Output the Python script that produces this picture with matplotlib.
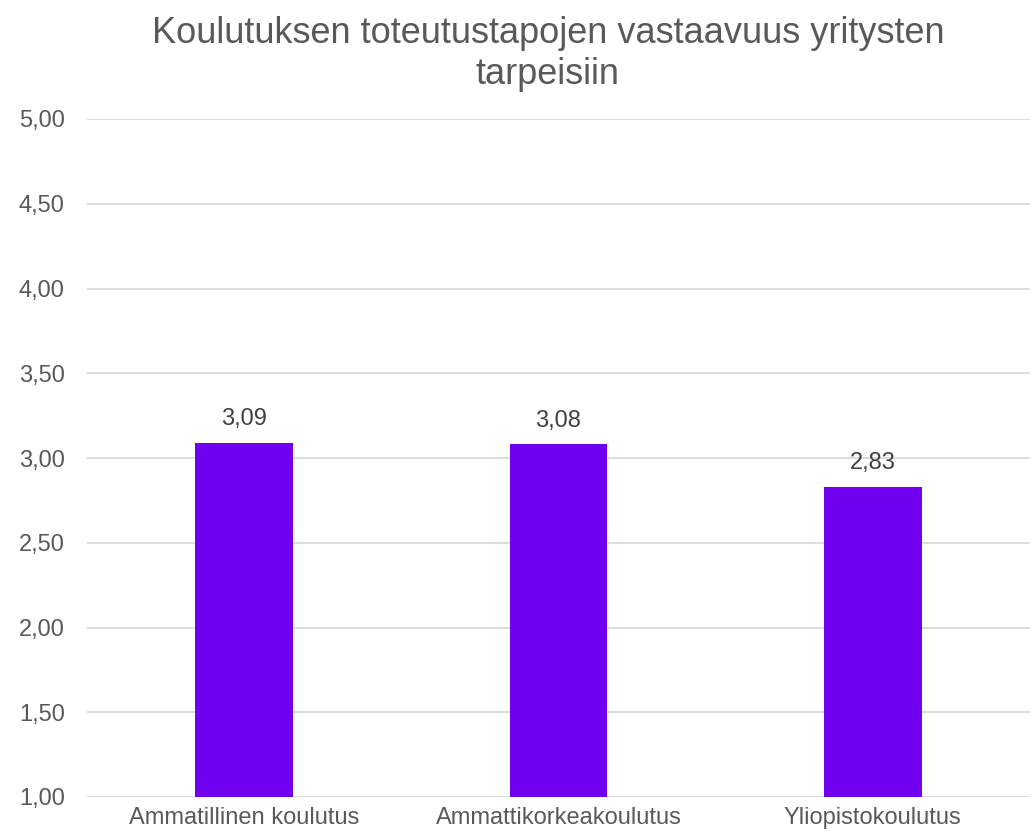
import matplotlib.pyplot as plt

categories = ["Ammatillinen koulutus", "Ammattikorkeakoulutus", "Yliopistokoulutus"]
values = [3.09, 3.08, 2.83]
yticks = [1.0, 1.5, 2.0, 2.5, 3.0, 3.5, 4.0, 4.5, 5.0]

plt.rcParams['font.family'] = ['Liberation Sans', 'DejaVu Sans']

fig = plt.figure(figsize=(10.32, 8.39), dpi=100)
ax = fig.add_axes([87 / 1032, 1 - 797 / 839, 943 / 1032, 678 / 839])

x = range(len(categories))
bars = ax.bar(x, [v - 1 for v in values], bottom=1, width=0.31, color='#7000EE', zorder=3)

for xi, v in zip(x, values):
    ax.annotate(f"{v:.2f}".replace('.', ','), (xi, v), xytext=(0, 9),
                textcoords='offset points', ha='center', va='bottom',
                fontsize=17, color='#404040')

ax.set_xlim(-0.5, 2.5)
ax.set_ylim(1, 5)
ax.set_yticks(yticks)
ax.set_yticklabels([f"{t:.2f}".replace('.', ',') for t in yticks])
ax.set_xticks(list(x))
ax.set_xticklabels(categories)
ax.tick_params(axis='both', length=0, labelsize=17, labelcolor='#595959')
ax.tick_params(axis='y', pad=16)
ax.tick_params(axis='x', pad=7)
ax.grid(axis='y', color='#D9D9D9', linewidth=1.3, zorder=0)
for s in ax.spines.values():
    s.set_visible(False)

fig.text(548 / 1032, 1 - 54 / 839, "Koulutuksen toteutustapojen vastaavuus yritysten\ntarpeisiin",
         ha='center', va='center', fontsize=26, color='#595959', linespacing=1.2)

fig.savefig('out.png', dpi=100)
